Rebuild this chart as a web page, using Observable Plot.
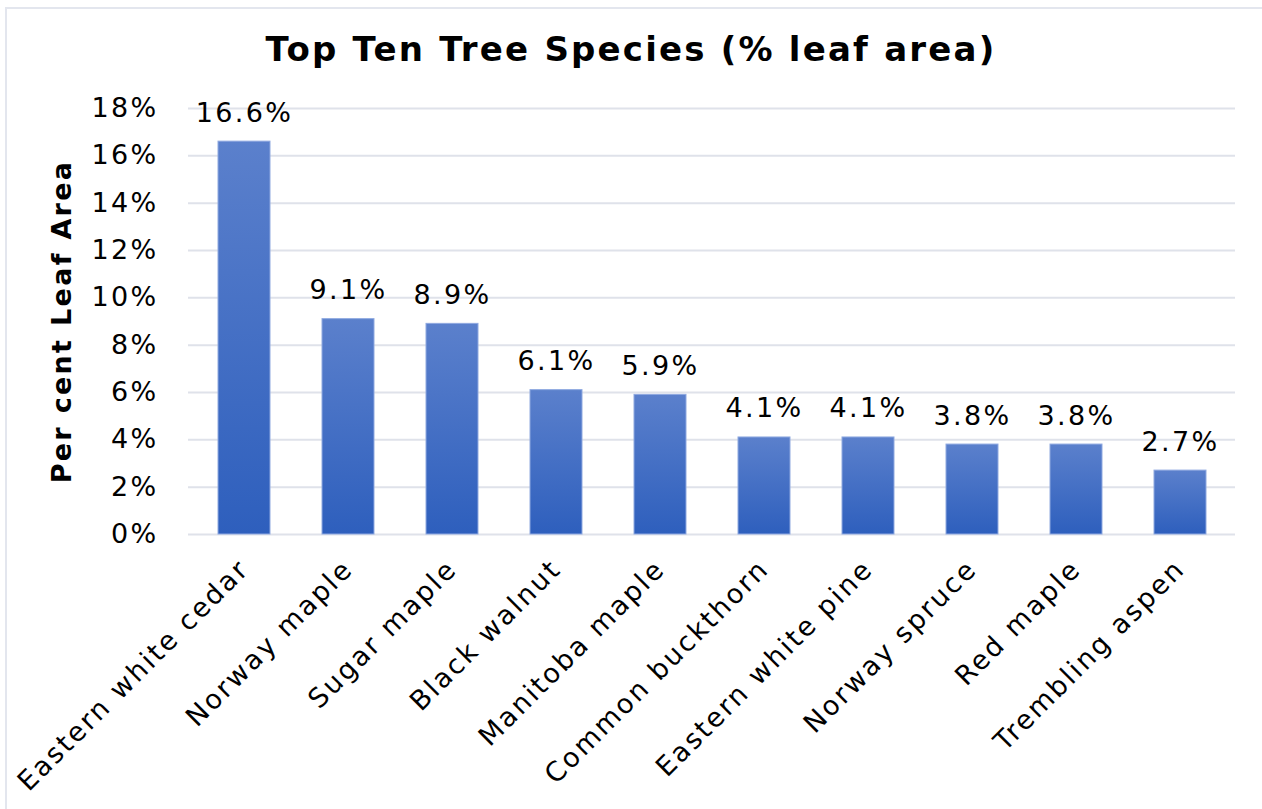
<!DOCTYPE html>
<html>
<head>
<meta charset="utf-8">
<script src="https://cdn.jsdelivr.net/npm/d3@7"></script>
<script src="https://cdn.jsdelivr.net/npm/@observablehq/plot@0.6"></script>
<style>
  html, body { margin: 0; padding: 0; background: #fff; }
  #wrap { position: relative; width: 1262px; height: 809px; overflow: hidden; font-family: "DejaVu Sans", Verdana, sans-serif; }
  #frame { position: absolute; left: 5px; top: 7px; width: 1300px; height: 900px; border-left: 2px solid #e3e6ee; border-top: 2px solid #e3e6ee; }
  #title { position: absolute; left: 0; width: 1262px; top: 29px; text-align: center; font-weight: bold; font-size: 34px; letter-spacing: 2.2px; color: #000; }
  #chart { position: absolute; left: 0; top: 90px; }
</style>
</head>
<body>
<div id="wrap">
  <div id="frame"></div>
  <div id="title">Top Ten Tree Species (% leaf area)</div>
  <div id="chart"></div>
</div>
<script>
const species = ["Eastern white cedar", "Norway maple", "Sugar maple", "Black walnut", "Manitoba maple", "Common buckthorn", "Eastern white pine", "Norway spruce", "Red maple", "Trembling aspen"];
const leafArea = [16.6, 9.1, 8.9, 6.1, 5.9, 4.1, 4.1, 3.8, 3.8, 2.7];
const yTicks = [0, 2, 4, 6, 8, 10, 12, 14, 16, 18];
const yLabel = "Per cent Leaf Area";

const data = species.map((s, i) => ({species: s, value: leafArea[i]}));

const gradient = () => {
  const defs = d3.create("svg:defs");
  const g = defs.append("linearGradient").attr("id", "barGrad").attr("x1", 0).attr("y1", 0).attr("x2", 0).attr("y2", 1);
  g.append("stop").attr("offset", "0%").attr("stop-color", "#5b80cc");
  g.append("stop").attr("offset", "100%").attr("stop-color", "#2e5fbd");
  return defs.node();
};

const chart = Plot.plot({
  width: 1262,
  height: 719,
  marginTop: 18,
  marginBottom: 275,
  marginLeft: 188,
  marginRight: 27,
  style: { fontFamily: "DejaVu Sans, Verdana, sans-serif", fontSize: "27px", color: "#000", overflow: "visible" },
  x: { domain: species, paddingInner: 0.5, paddingOuter: 0.25, label: null, tickSize: 0, tickPadding: 30, tickRotate: -45 },
  y: { domain: [0, 18], ticks: yTicks, tickFormat: d => d + "%", label: null, tickSize: 0, tickPadding: 30 },
  marks: [
    gradient,
    Plot.gridY(yTicks, { stroke: "#dfe2ea", strokeOpacity: 1, strokeWidth: 2 }),
    Plot.barY(data, { x: "species", y: "value", fill: "url(#barGrad)", stroke: "#8fa9e0", strokeWidth: 1 }),
    Plot.text(data, { x: "species", y: "value", text: d => d.value.toFixed(1) + "%", dy: -20, lineAnchor: "bottom", fill: "#000", fontSize: 27 }),
    Plot.text([yLabel], { frameAnchor: "left", dx: -126, rotate: -90, textAnchor: "middle", fontWeight: "bold", fontSize: 27, fill: "#000" })
  ]
});
chart.querySelectorAll("text").forEach(t => t.style.letterSpacing = "2.3px");
document.getElementById("chart").appendChild(chart);
</script>
</body>
</html>
